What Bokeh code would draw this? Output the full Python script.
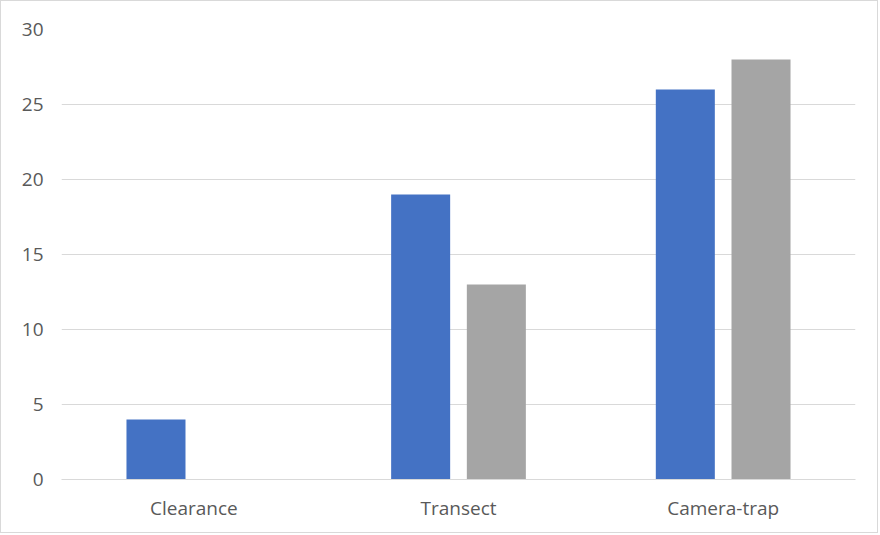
from bokeh.plotting import figure
from bokeh.models import ColumnDataSource, FactorRange, Range1d, FixedTicker
from bokeh.transform import dodge
from bokeh.embed import file_html
from bokeh.resources import INLINE

categories = ["Clearance", "Transect", "Camera-trap"]
series_a = [4, 19, 26]
series_b = [0, 13, 28]
y_ticks = [0, 5, 10, 15, 20, 25, 30]

source = ColumnDataSource(data=dict(cat=categories, a=series_a, b=series_b))

p = figure(width=878, height=533, x_range=FactorRange(*categories, range_padding=0),
           y_range=Range1d(0, 30), output_backend="svg", toolbar_location=None,
           min_border_left=60, min_border_right=24, min_border_top=28, min_border_bottom=55)
p.styles = {"border": "1px solid #d9d9d9"}

p.vbar(x=dodge("cat", -0.143, range=p.x_range), top="a", width=0.223, source=source,
       fill_color="#4472C4", line_color=None)
p.vbar(x=dodge("cat", 0.143, range=p.x_range), top="b", width=0.223, source=source,
       fill_color="#A5A5A5", line_color=None)

p.outline_line_color = None
p.xgrid.grid_line_color = None
p.ygrid.grid_line_color = "#d9d9d9"
p.ygrid.grid_line_width = 1
p.yaxis.ticker = FixedTicker(ticks=y_ticks)

for ax in (p.xaxis, p.yaxis):
    ax.axis_line_color = None
    ax.major_tick_line_color = None
    ax.minor_tick_line_color = None
    ax.major_tick_out = 0
    ax.major_tick_in = 0
    ax.major_label_text_font = "Open Sans"
    ax.major_label_text_font_size = "19px"
    ax.major_label_text_color = "#595959"
p.xaxis.axis_line_color = "#d9d9d9"
p.yaxis.major_label_standoff = 18
p.xaxis.major_label_standoff = 15

open("out.html", "w").write(file_html(p, INLINE))
